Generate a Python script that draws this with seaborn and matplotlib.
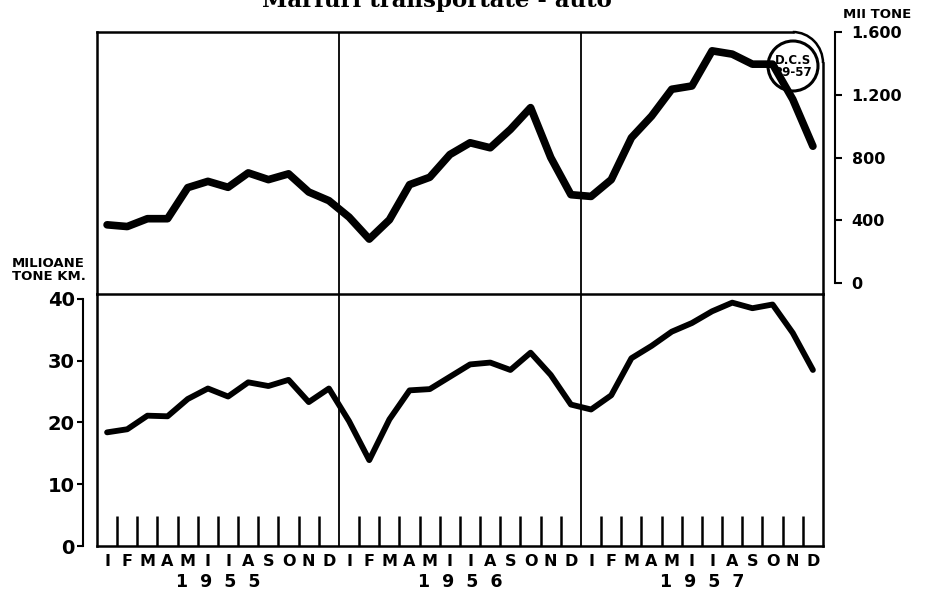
import numpy as np
import matplotlib
matplotlib.use("Agg")
import matplotlib.pyplot as plt
import seaborn as sns
from matplotlib.patches import Arc, Circle

# monthly data 1955-1957
years = ['1955', '1956', '1957']
months = ['I', 'F', 'M', 'A', 'M', 'I', 'I', 'A', 'S', 'O', 'N', 'D']

# mii tone (upper panel, right scale)
tone = [371, 360, 410, 410, 608, 648, 610, 702, 659, 696, 580, 525,
        420, 280, 403, 627, 674, 819, 894, 862, 979, 1118, 800, 563,
        552, 659, 926, 1064, 1235, 1256, 1480, 1459, 1395, 1395, 1171, 872]

# milioane tone km (lower panel, left scale)
tonekm = [18.4, 18.9, 21.1, 21.0, 23.8, 25.5, 24.2, 26.5, 25.9, 26.9, 23.3, 25.5,
          20.2, 13.9, 20.5, 25.2, 25.4, 27.4, 29.4, 29.7, 28.5, 31.3, 27.7, 22.9,
          22.1, 24.4, 30.4, 32.4, 34.7, 36.1, 38.0, 39.4, 38.5, 39.1, 34.5, 28.5]

tone_ticks = [0, 400, 800, 1200, 1600]
tone_labels = ['0', '400', '800', '1.200', '1.600']
tkm_ticks = [0, 10, 20, 30, 40]
tkm_labels = ['0', '10', '20', '30', '40']

sns.set_theme(style='white')
plt.rcParams['font.family'] = ['DejaVu Sans']
plt.rcParams['font.weight'] = 'bold'
plt.rcParams['text.color'] = 'black'
plt.rcParams['xtick.color'] = 'black'
plt.rcParams['ytick.color'] = 'black'
plt.rcParams['xtick.labelcolor'] = 'black'
plt.rcParams['ytick.labelcolor'] = 'black'

W, H = 928, 592
fig = plt.figure(figsize=(W / 100, H / 100), dpi=100)


def box(l, t, r, b):
    return [l / W, 1 - b / H, (r - l) / W, (b - t) / H]


ax_up = fig.add_axes(box(97, 32, 823, 294))
ax_lo = fig.add_axes(box(97, 294, 823, 546))
ax_lo.patch.set_visible(False)

n = len(years) * len(months)
x = np.arange(n) + 0.5

sns.lineplot(x=x, y=tone, ax=ax_up, color='black', lw=5.5)
sns.lineplot(x=x, y=tonekm, ax=ax_lo, color='black', lw=4.2)

# right scale (mii tone) - twin first, it switches ticks back on the left
axr = ax_up.twinx()

frame_lw = 1.8
for ax in (ax_up, ax_lo):
    ax.set_xlim(0, n)
    ax.set_xlabel('')
    ax.set_ylabel('')
    ax.set_yticks([])
    for s in ax.spines.values():
        s.set_color('black')
        s.set_linewidth(frame_lw)
    for k in range(1, len(years)):
        ax.axvline(k * len(months), color='black', lw=1.3)
    ax.tick_params(axis='y', left=False, right=False, labelleft=False)

ax_up.set_ylim(-70, 1600)
ax_up.tick_params(axis='x', which='both', bottom=False, labelbottom=False)
ax_up.set_xticks([])
# rounded top-right corner
ax_up.spines['top'].set_bounds(0, n - 1.5)
ax_up.spines['right'].set_bounds(-70, 1402)
ax_up.add_patch(Arc((n - 1.5, 1402), 3, 2 * (1600 - 1402), theta1=0, theta2=90,
                    color='black', lw=frame_lw, clip_on=False))

ax_lo.set_ylim(0, 40.8)
ax_lo.spines['top'].set_visible(False)
bounds = [i for i in range(1, n) if i % len(months) != 0]
ax_lo.set_xticks(bounds)
ax_lo.set_xticks(x, minor=True)
ax_lo.set_xticklabels([''] * len(bounds))
ax_lo.set_xticklabels(months * len(years), minor=True)
ax_lo.tick_params(axis='x', which='major', direction='in', length=21.6,
                  width=1.8, color='black', bottom=True)
ax_lo.tick_params(axis='x', which='minor', length=0, pad=6, labelsize=11.5,
                  bottom=True)

for i, yr in enumerate(years):
    ax_lo.annotate('  '.join(yr), xy=(i * len(months) + len(months) / 2, 0),
                   xycoords=('data', 'axes fraction'), xytext=(0, -26),
                   textcoords='offset points', ha='center', va='center',
                   fontsize=12.5, fontweight='bold')

axr.set_ylim(-70, 1600)
for s in ('top', 'left', 'bottom'):
    axr.spines[s].set_visible(False)
axr.spines['right'].set_position(('outward', 8.6))
axr.spines['right'].set_bounds(0, 1600)
axr.spines['right'].set_color('black')
axr.spines['right'].set_linewidth(1.5)
axr.set_yticks(tone_ticks)
axr.set_yticklabels(tone_labels)
axr.tick_params(axis='y', direction='out', length=5, width=1.5, pad=7,
                labelsize=11.5, color='black', right=True)
axr.grid(False)

# left scale (milioane tone km)
axl = fig.add_axes(box(97, 294, 823, 546))
axl.patch.set_visible(False)
axl.set_ylim(0, 40.8)
axl.set_xticks([])
for s in ('top', 'right', 'bottom'):
    axl.spines[s].set_visible(False)
axl.spines['left'].set_position(('outward', 10))
axl.spines['left'].set_bounds(0, 40)
axl.spines['left'].set_color('black')
axl.spines['left'].set_linewidth(1.5)
axl.set_yticks(tkm_ticks)
axl.set_yticklabels(tkm_labels)
axl.tick_params(axis='y', direction='out', length=4, width=1.5, pad=2,
                labelsize=14, color='black', left=True)
axl.grid(False)

# stamp
fig.add_artist(Circle((7.93, (H - 66) / 100), 0.25, fill=False, lw=2.2,
                      color='black', transform=fig.dpi_scale_trans))
fig.text(793 / W, 1 - 66 / H, 'D.C.S\n29-57', ha='center', va='center',
         fontsize=8.5, fontweight='bold', linespacing=0.9)

fig.text(12 / W, 1 - 270 / H, 'MILIOANE\nTONE KM.', ha='left', va='center',
         fontsize=9.5, fontweight='bold', linespacing=0.95)
fig.text(843 / W, 1 - 15 / H, 'MII TONE', ha='left', va='center',
         fontsize=9.5, fontweight='bold')
# title only partly visible at the top edge, as in the scan
fig.text(437 / W, 1 - 7 / H, 'Mărfuri transportate - auto', ha='center',
         va='baseline', fontsize=16.5, fontweight='bold', family='DejaVu Serif')

fig.savefig('out.png', dpi=100)
